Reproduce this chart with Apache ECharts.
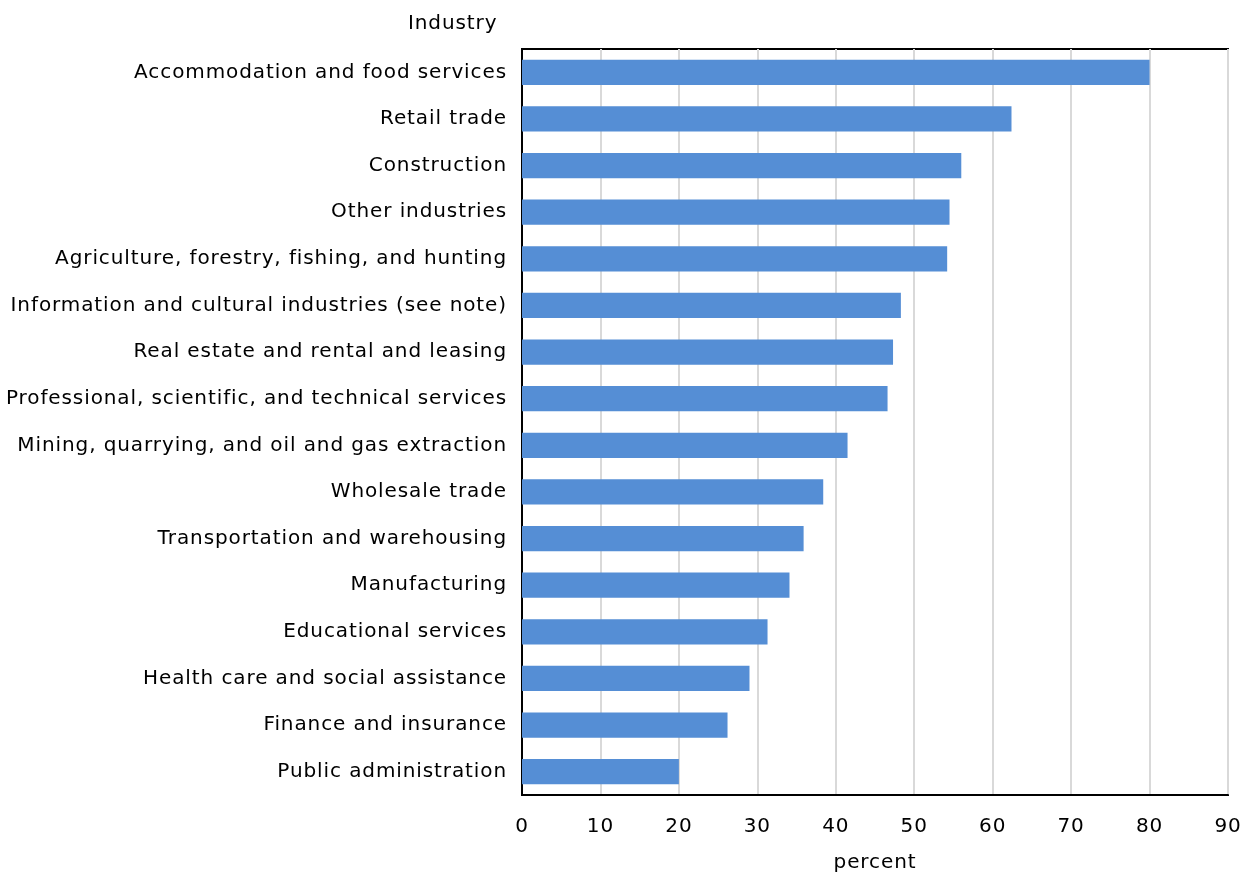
<!DOCTYPE html>
<html>
<head>
<meta charset="utf-8">
<style>
  html, body { margin: 0; padding: 0; background: #fff; }
  #chart { width: 1243px; height: 873px; }
</style>
<script src="https://cdn.jsdelivr.net/npm/echarts@6/dist/echarts.min.js"></script>
</head>
<body>
<div id="chart"></div>
<script>
// Industries, listed top to bottom
const industries = [
  'Accommodation and food services',
  'Retail trade',
  'Construction',
  'Other industries',
  'Agriculture, forestry, fishing, and hunting',
  'Information and cultural industries (see note)',
  'Real estate and rental and leasing',
  'Professional, scientific, and technical services',
  'Mining, quarrying, and oil and gas extraction',
  'Wholesale trade',
  'Transportation and warehousing',
  'Manufacturing',
  'Educational services',
  'Health care and social assistance',
  'Finance and insurance',
  'Public administration'
];

// Share of businesses, percent
const percentValues = [80.0, 62.4, 56.0, 54.5, 54.2, 48.3, 47.3, 46.6, 41.5, 38.4, 35.9, 34.1, 31.3, 29.0, 26.2, 20.0];

const xTicks = { min: 0, max: 90, interval: 10 };

// Slightly tracked-out lettering for all chart text
(function () {
  const proto = CanvasRenderingContext2D.prototype;
  const origFill = proto.fillText;
  proto.fillText = function () {
    if ('letterSpacing' in this) this.letterSpacing = '0.9px';
    return origFill.apply(this, arguments);
  };
})();

const FONT = 'DejaVu Sans';
const FS = 20;
const chart = echarts.init(document.getElementById('chart'), null, { renderer: 'canvas' });

chart.setOption({
  animation: false,
  backgroundColor: '#ffffff',
  title: {
    text: 'Industry',
    left: 403,
    top: 9,
    textStyle: { fontFamily: FONT, fontSize: FS, fontWeight: 'normal', color: '#000' }
  },
  grid: {
    left: 522, right: 15, top: 49, bottom: 78,
    outerBoundsMode: 'none',
    containLabel: false,
    show: true, borderColor: '#000', borderWidth: 2
  },
  xAxis: {
    type: 'value',
    min: xTicks.min, max: xTicks.max, interval: xTicks.interval,
    name: 'percent',
    nameLocation: 'middle',
    nameGap: 58,
    nameTextStyle: { fontFamily: FONT, fontSize: FS, color: '#000' },
    axisLine: { show: true, lineStyle: { color: '#000', width: 2 } },
    axisTick: { show: false },
    axisLabel: { fontFamily: FONT, fontSize: FS, color: '#000', margin: 22 },
    splitLine: { show: true, lineStyle: { color: '#d9d9d9', width: 2 } }
  },
  yAxis: {
    type: 'category',
    inverse: true,
    data: industries,
    axisLine: { show: true, lineStyle: { color: '#000', width: 2 } },
    axisTick: { show: false },
    axisLabel: { fontFamily: FONT, fontSize: FS, color: '#000', margin: 15 },
    splitLine: { show: false }
  },
  series: [{
    type: 'bar',
    data: percentValues,
    barCategoryGap: '46%',
    itemStyle: { color: '#558ed5' }
  }]
});
</script>
</body>
</html>
